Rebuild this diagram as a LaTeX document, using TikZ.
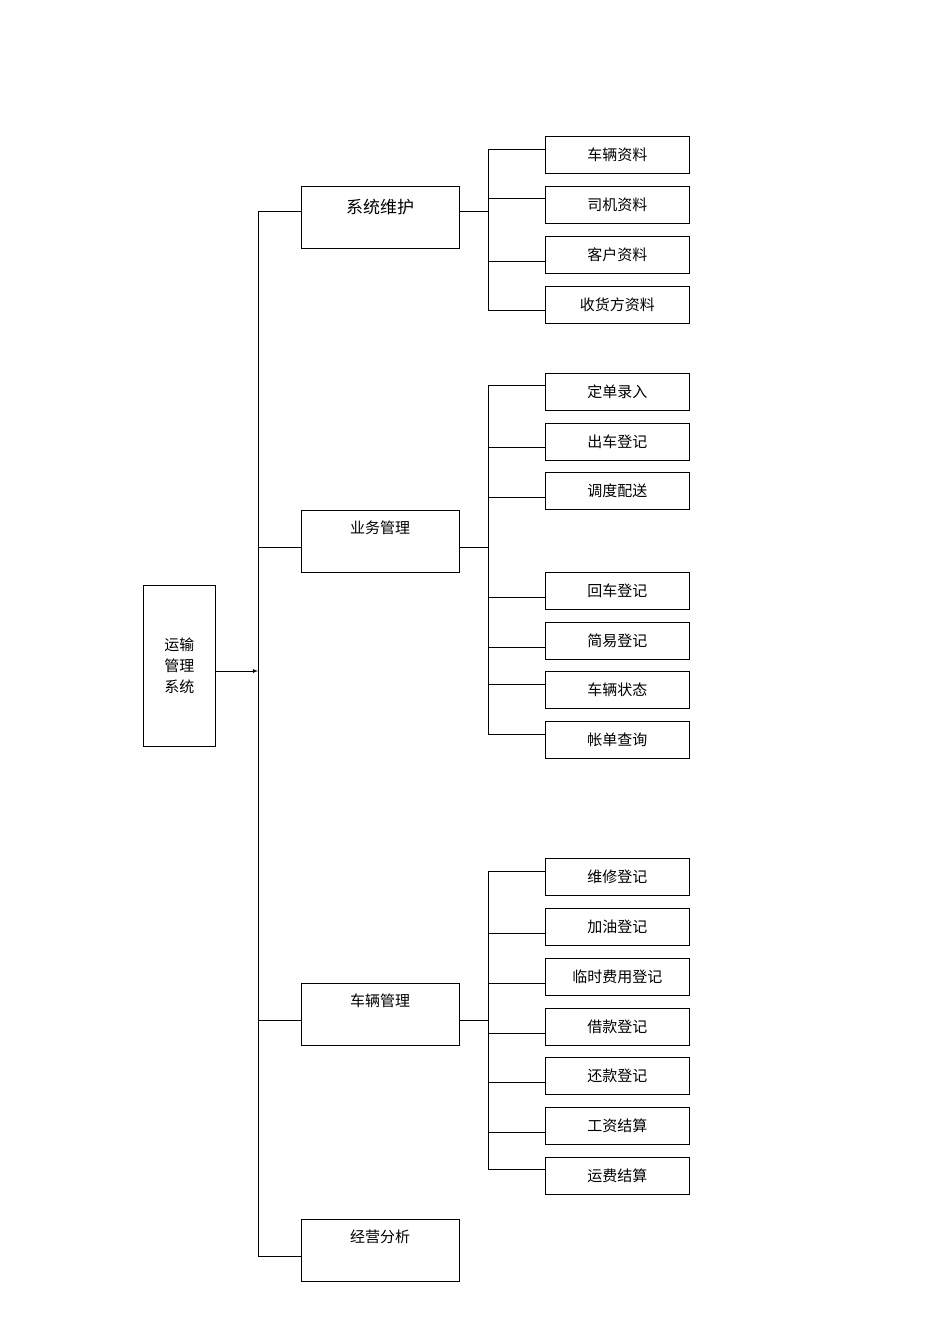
\documentclass[tikz,border=0pt]{standalone}
\usepackage{fontspec}
\setmainfont{Noto Sans CJK SC}
\begin{document}
\begin{tikzpicture}[x=1pt,y=-1pt,line width=0.8pt,
 leaf/.style={draw,minimum width=144pt,minimum height=37pt,font=\fontsize{15}{17}\selectfont,inner sep=0pt},
 mid/.style={draw,minimum width=158pt,minimum height=62pt,font=\fontsize{15}{17}\selectfont,inner sep=0pt}]
\useasboundingbox (0,0) rectangle (950,1344);
\node[draw,minimum width=72pt,minimum height=161pt,anchor=north west,align=center,font=\fontsize{15}{21}\selectfont] (root) at (143,585) {运输\\管理\\系统};
\coordinate (tt) at (258,211); \coordinate (tb) at (258,1256); \coordinate (ta) at (258,671);
\draw[-latex] (root.east |- ta) -- (ta);
\draw (tt) -- (tb);
\foreach \n/\t/\y/\b/\ty/\fs in {m1/系统维护/186/211/207/17, m2/业务管理/510/547/528/15, m3/车辆管理/983/1020/1001/15, m4/经营分析/1219/1256/1237/15}{
 \node[mid,anchor=north west] (\n) at (301,\y) {};
 \node[font=\fontsize{\fs}{\fs}\selectfont] (\n t) at (380,\ty) {\t};
 \draw (258,\b) -- (\n.west |- {(0,\b)});
}
\foreach \n/\t/\y/\l in {a1/车辆资料/136/149,a2/司机资料/186/198,a3/客户资料/236/261,a4/收货方资料/286/310,
 b1/定单录入/373/385,b2/出车登记/423/447,b3/调度配送/472/497,b4/回车登记/572/597,b5/简易登记/622/647,b6/车辆状态/671/684,b7/帐单查询/721/734,
 c1/维修登记/858/871,c2/加油登记/908/933,c3/临时费用登记/958/983,c4/借款登记/1008/1033,c5/还款登记/1057/1082,c6/工资结算/1107/1132,c7/运费结算/1157/1169}{
 \node[leaf,anchor=north west] (\n) at (545,\y) {\t};
 \draw (488,\l) -- (\n.west |- {(0,\l)});
}
\draw (488,149) -- (488,310); \draw (m1.east |- {(0,211)}) -- (488,211);
\draw (488,385) -- (488,734); \draw (m2.east |- {(0,547)}) -- (488,547);
\draw (488,871) -- (488,1169); \draw (m3.east |- {(0,1020)}) -- (488,1020);
\end{tikzpicture}
\end{document}
